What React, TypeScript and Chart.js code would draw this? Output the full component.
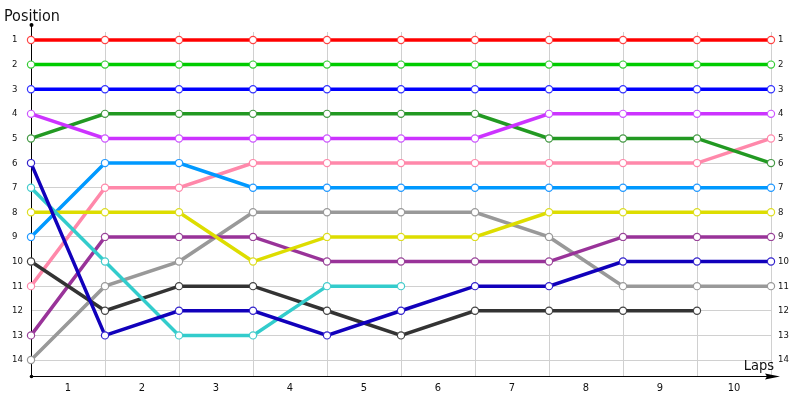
import React, { useEffect, useRef } from "react";
import { Chart, registerables } from "chart.js";

Chart.register(...registerables);

// ---- data ----
const laps = [0, 1, 2, 3, 4, 5, 6, 7, 8, 9, 10];
const lapLabelPositions = [0.5, 1.5, 2.5, 3.5, 4.5, 5.5, 6.5, 7.5, 8.5, 9.5];
const lapLabels = ["1", "2", "3", "4", "5", "6", "7", "8", "9", "10"];
const positionTicks = [1, 2, 3, 4, 5, 6, 7, 8, 9, 10, 11, 12, 13, 14];

const redDriver = [1, 1, 1, 1, 1, 1, 1, 1, 1, 1, 1];
const greenDriver = [2, 2, 2, 2, 2, 2, 2, 2, 2, 2, 2];
const blueDriver = [3, 3, 3, 3, 3, 3, 3, 3, 3, 3, 3];
const violetDriver = [4, 5, 5, 5, 5, 5, 5, 4, 4, 4, 4];
const forestDriver = [5, 4, 4, 4, 4, 4, 4, 5, 5, 5, 6];
const navyDriver = [6, 13, 12, 12, 13, 12, 11, 11, 10, 10, 10];
const cyanDriver = [7, 10, 13, 13, 11, 11, null, null, null, null, null];
const yellowDriver = [8, 8, 8, 10, 9, 9, 9, 8, 8, 8, 8];
const skyDriver = [9, 6, 6, 7, 7, 7, 7, 7, 7, 7, 7];
const blackDriver = [10, 12, 11, 11, 12, 13, 12, 12, 12, 12, null];
const pinkDriver = [11, 7, 7, 6, 6, 6, 6, 6, 6, 6, 5];
const plumDriver = [13, 9, 9, 9, 10, 10, 10, 10, 9, 9, 9];
const grayDriver = [14, 11, 10, 8, 8, 8, 8, 9, 11, 11, 11];

const series: { values: (number | null)[]; color: string; pointColor: string }[] = [
  { values: redDriver, color: "#ff0000", pointColor: "#ff4444" },
  { values: greenDriver, color: "#00cc00", pointColor: "#33cc33" },
  { values: blueDriver, color: "#0000ff", pointColor: "#3333ff" },
  { values: violetDriver, color: "#cc33ff", pointColor: "#cc55ff" },
  { values: forestDriver, color: "#229922", pointColor: "#449944" },
  { values: navyDriver, color: "#1100bb", pointColor: "#3322cc" },
  { values: cyanDriver, color: "#33cccc", pointColor: "#44cccc" },
  { values: yellowDriver, color: "#dddd00", pointColor: "#dddd22" },
  { values: skyDriver, color: "#0099ff", pointColor: "#2299ff" },
  { values: blackDriver, color: "#333333", pointColor: "#444444" },
  { values: pinkDriver, color: "#ff88aa", pointColor: "#ff88aa" },
  { values: plumDriver, color: "#993399", pointColor: "#994499" },
  { values: grayDriver, color: "#999999", pointColor: "#999999" },
];

const tickFont = '"DejaVu Sans Condensed", "DejaVu Sans", sans-serif';

const decorations = {
  id: "decorations",
  beforeDatasetsDraw(chart: any) {
    const ctx = chart.ctx as CanvasRenderingContext2D;
    const { left, bottom } = chart.chartArea;
    ctx.save();
    ctx.strokeStyle = "#000";
    ctx.fillStyle = "#000";
    ctx.lineWidth = 1;
    // y axis extension
    ctx.beginPath();
    ctx.moveTo(left + 0.5, bottom);
    ctx.lineTo(left + 0.5, 25);
    ctx.stroke();
    ctx.beginPath();
    ctx.arc(left + 0.5, 25, 2, 0, Math.PI * 2);
    ctx.fill();
    // x axis extension + arrow
    ctx.beginPath();
    ctx.moveTo(left, bottom + 0.5);
    ctx.lineTo(775, bottom + 0.5);
    ctx.stroke();
    ctx.beginPath();
    ctx.moveTo(780, bottom + 0.5);
    ctx.lineTo(765, bottom - 2.5);
    ctx.lineTo(767, bottom + 0.5);
    ctx.lineTo(765, bottom + 3.5);
    ctx.closePath();
    ctx.fill();
    ctx.beginPath();
    ctx.arc(left + 0.5, bottom + 0.5, 1.8, 0, Math.PI * 2);
    ctx.fill();
    ctx.restore();
  },
  afterDraw(chart: any) {
    const ctx = chart.ctx as CanvasRenderingContext2D;
    ctx.save();
    ctx.fillStyle = "#111";
    ctx.textBaseline = "alphabetic";
    ctx.textAlign = "left";
    ctx.font = '16px "DejaVu Sans Condensed", "DejaVu Sans", sans-serif';
    ctx.fillText("Position", 4, 21);
    ctx.textAlign = "right";
    ctx.font = '14.5px "DejaVu Sans Condensed", "DejaVu Sans", sans-serif';
    ctx.fillText("Laps", 774, 370);
    ctx.restore();
  },
};

export default function App() {
  const canvasRef = useRef<HTMLCanvasElement | null>(null);

  useEffect(() => {
    if (!canvasRef.current) return;
    const datasets = series.map((s, i) => ({
      label: "Driver " + (i + 1),
      data: laps.map((lap, j) => ({ x: lap, y: s.values[j] })),
      borderColor: s.color,
      backgroundColor: "#ffffff",
      borderWidth: 3.5,
      pointRadius: 3.6,
      pointBorderWidth: 1.2,
      pointBackgroundColor: "#ffffff",
      pointBorderColor: s.pointColor,
      spanGaps: false,
      tension: 0,
      clip: false,
    }));

    const yCommon = {
      type: "linear" as const,
      reverse: true,
      min: 0.675,
      max: 14.65,
      afterBuildTicks: (scale: any) => {
        scale.ticks = positionTicks.map((v) => ({ value: v }));
      },
    };

    const chart = new Chart(canvasRef.current, {
      type: "line",
      data: { datasets: datasets as any },
      plugins: [decorations],
      options: {
        responsive: false,
        animation: false,
        devicePixelRatio: 1,
        layout: { padding: { left: 12, top: 32, right: 0, bottom: 0 } },
        plugins: { legend: { display: false }, tooltip: { enabled: false } },
        scales: {
          x: {
            type: "linear",
            position: "bottom",
            min: 0,
            max: 10,
            afterBuildTicks: (scale: any) => {
              scale.ticks = laps.map((v) => ({ value: v }));
            },
            ticks: { display: false },
            grid: { color: "#d0d0d0", lineWidth: 1, drawTicks: false },
            border: { display: true, color: "#000", width: 1 },
            afterFit: (scale: any) => {
              scale.height = 0;
            },
          },
          x2: {
            type: "linear",
            position: "bottom",
            min: 0,
            max: 10,
            afterBuildTicks: (scale: any) => {
              scale.ticks = lapLabelPositions.map((v) => ({ value: v }));
            },
            ticks: {
              autoSkip: false,
              maxRotation: 0,
              padding: 6,
              color: "#111",
              font: { family: tickFont, size: 11 },
              callback: (_v: any, i: number) => lapLabels[i],
            },
            grid: { display: false, drawTicks: false },
            border: { display: false },
            afterFit: (scale: any) => {
              scale.height = 24;
            },
          },
          y: {
            ...yCommon,
            position: "left",
            ticks: {
              crossAlign: "far",
              padding: 8,
              color: "#111",
              font: { family: tickFont, size: 9.5 },
              callback: (v: any) => String(v),
            },
            grid: { color: "#d0d0d0", lineWidth: 1, drawTicks: false },
            border: { display: true, color: "#000", width: 1 },
            afterFit: (scale: any) => {
              scale.width = 19;
            },
          },
          yR: {
            ...yCommon,
            position: "right",
            ticks: {
              crossAlign: "near",
              padding: 7,
              color: "#111",
              font: { family: tickFont, size: 9.5 },
              callback: (v: any) => String(v),
            },
            grid: { display: false, drawTicks: false },
            border: { display: false },
            afterFit: (scale: any) => {
              scale.width = 29;
            },
          },
        },
      } as any,
    });
    return () => chart.destroy();
  }, []);

  return (
    <div style={{ position: "absolute", left: 0, top: 0, width: 800, height: 400, background: "#fff" }}>
      <canvas ref={canvasRef} width={800} height={400} />
    </div>
  );
}
